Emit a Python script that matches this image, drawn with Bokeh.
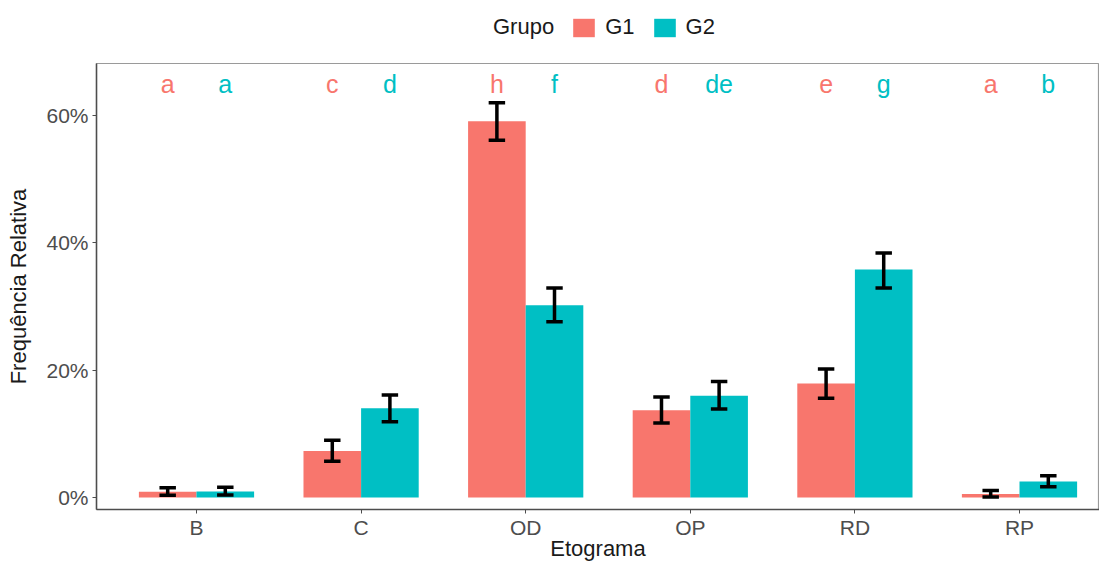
from bokeh.plotting import figure
from bokeh.layouts import column
from bokeh.models import (ColumnDataSource, Range1d, FixedTicker, NumeralTickFormatter,
                          Legend, LegendItem)
from bokeh.core.properties import value
from bokeh.embed import file_html
from bokeh.resources import INLINE

# ---- data ----
categories = ["B", "C", "OD", "OP", "RD", "RP"]
groups = ["G1", "G2"]
colors = ["#F8766D", "#00BFC4"]
legend_title = "Grupo"

g1_mean = [0.009, 0.073, 0.591, 0.137, 0.179, 0.0055]
g1_low = [0.0035, 0.057, 0.561, 0.117, 0.156, 0.001]
g1_high = [0.0155, 0.090, 0.620, 0.158, 0.202, 0.011]

g2_mean = [0.0095, 0.140, 0.302, 0.160, 0.358, 0.025]
g2_low = [0.004, 0.119, 0.276, 0.139, 0.329, 0.017]
g2_high = [0.016, 0.161, 0.329, 0.182, 0.384, 0.034]

g1_letters = ["a", "c", "h", "d", "e", "a"]
g2_letters = ["a", "d", "f", "de", "g", "b"]

y_ticks = [0.0, 0.2, 0.4, 0.6]
letter_y = 0.65

FONT = "Liberation Sans"
bar_w = 0.35
offsets = [-bar_w / 2, bar_w / 2]
cap_half = 0.05

# ---- main chart ----
p = figure(width=1099, height=502, output_backend="svg", toolbar_location=None,
           x_range=Range1d(0.3925, 6.486), y_range=Range1d(-0.0188, 0.6815),
           min_border_left=96, min_border_right=0, min_border_top=2, min_border_bottom=50)

means = [g1_mean, g2_mean]
lows = [g1_low, g2_low]
highs = [g1_high, g2_high]
letters = [g1_letters, g2_letters]

for gi, g in enumerate(groups):
    xs = [i + 1 + offsets[gi] for i in range(len(categories))]
    src = ColumnDataSource(dict(x=xs, top=means[gi], low=lows[gi], high=highs[gi],
                                x0=[x - cap_half for x in xs], x1=[x + cap_half for x in xs],
                                lab=letters[gi], ly=[letter_y] * len(xs)))
    p.vbar(x="x", top="top", bottom=0, width=bar_w, source=src,
           fill_color=colors[gi], line_color=None)
    p.segment(x0="x", x1="x", y0="low", y1="high", source=src, line_color="black", line_width=3.5)
    p.segment(x0="x0", x1="x1", y0="low", y1="low", source=src, line_color="black", line_width=3.5)
    p.segment(x0="x0", x1="x1", y0="high", y1="high", source=src, line_color="black", line_width=3.5)
    p.text(x="x", y="ly", text="lab", source=src, text_color=colors[gi],
           text_align="center", text_baseline="middle",
           text_font=value(FONT), text_font_size="25px")

p.xgrid.visible = False
p.ygrid.visible = False
p.outline_line_color = "#9A9A9A"
p.outline_line_width = 1.2

p.xaxis.ticker = FixedTicker(ticks=list(range(1, len(categories) + 1)))
p.xaxis.major_label_overrides = {i + 1: c for i, c in enumerate(categories)}
p.yaxis.ticker = FixedTicker(ticks=y_ticks)
p.yaxis.formatter = NumeralTickFormatter(format="0%")

for ax in (p.xaxis, p.yaxis):
    ax.axis_line_color = "#4D4D4D"
    ax.axis_line_width = 1.5
    ax.major_tick_line_color = "#4D4D4D"
    ax.major_tick_out = 4
    ax.major_tick_in = 0
    ax.minor_tick_line_color = None
    ax.major_label_text_font = FONT
    ax.major_label_text_font_size = "21px"
    ax.major_label_text_color = "#4D4D4D"
    ax.axis_label_text_font = FONT
    ax.axis_label_text_font_size = "22px"
    ax.axis_label_text_font_style = "normal"
    ax.axis_label_text_color = "#1A1A1A"

p.xaxis.axis_label = "Etograma"
p.yaxis.axis_label = "Frequência Relativa"
p.xaxis.major_label_standoff = 2
p.xaxis.axis_label_standoff = -6
p.yaxis.major_label_standoff = 4
p.yaxis.axis_label_standoff = 12

# ---- legend strip above the chart ----
lf = figure(width=1099, height=61, output_backend="svg", toolbar_location=None,
            x_axis_type=None, y_axis_type=None, x_range=Range1d(0, 1), y_range=Range1d(0, 1),
            min_border_left=0, min_border_right=0, min_border_top=0, min_border_bottom=0)
lf.xgrid.visible = False
lf.ygrid.visible = False
lf.outline_line_color = None

# zero-height proxy bars: they carry only the key colours for the legend
title_r = lf.vbar(x="x", top="top", bottom=0, width=0.01,
                  source=ColumnDataSource(dict(x=[0], top=[0])),
                  fill_alpha=0, line_alpha=0)
key_rs = [lf.vbar(x="x", top="top", bottom=0, width=0.01,
                  source=ColumnDataSource(dict(x=[i], top=[0])),
                  fill_color=colors[i], line_color=None) for i in range(len(groups))]

items = [LegendItem(label=legend_title, renderers=[title_r])]
items += [LegendItem(label=g, renderers=[key_rs[i]]) for i, g in enumerate(groups)]
legend = Legend(items=items, orientation="horizontal", location=(362, 21),
                label_text_font=FONT, label_text_font_size="22px", label_text_color="#1A1A1A",
                glyph_width=27, glyph_height=23, label_standoff=8, spacing=16,
                padding=0, margin=0, border_line_color=None, background_fill_alpha=0)
lf.add_layout(legend, "center")

layout = column(lf, p, spacing=0)
open("out.html", "w").write(file_html(layout, INLINE))
